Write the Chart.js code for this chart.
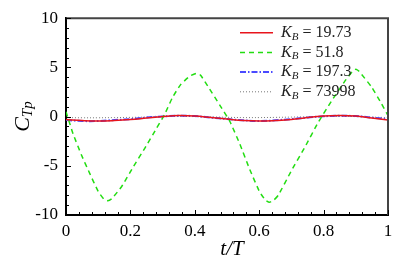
<!DOCTYPE html>
<html>
<head>
<meta charset="utf-8">
<script src="https://cdn.jsdelivr.net/npm/chart.js@4"></script>
<style>
  html, body { margin: 0; padding: 0; background: #fff; }
  canvas { display: block; }
</style>
</head>
<body>
<canvas id="ctpChart" width="407" height="272"></canvas>
<script>
// K_B = 51.8 (big oscillation)
var tGreen = [0, 0.022, 0.048, 0.074, 0.1, 0.118, 0.13, 0.142, 0.173, 0.209, 0.245, 0.281, 0.306, 0.33, 0.355, 0.384, 0.405, 0.418, 0.446, 0.477, 0.509, 0.54, 0.571, 0.602, 0.62, 0.632, 0.645, 0.659, 0.7, 0.742, 0.783, 0.825, 0.866, 0.89, 0.9, 0.91, 0.949, 0.98, 1];
var ctpGreen = [0.5, -1.75, -3.9, -5.8, -7.6, -8.4, -8.55, -8.35, -7.1, -5.1, -3.2, -1.2, 0.2, 1.9, 3.2, 4.1, 4.4, 4.2, 2.8, 1.2, -0.5, -2.8, -5.4, -7.7, -8.5, -8.7, -8.5, -8.0, -5.5, -3.1, -0.6, 1.6, 3.6, 4.6, 4.8, 4.6, 3.0, 1.3, 0.1];

// the three small ones
var tSmall = [0, 0.05, 0.1, 0.15, 0.2, 0.25, 0.3, 0.35, 0.4, 0.45, 0.5, 0.55, 0.6, 0.65, 0.7, 0.75, 0.8, 0.85, 0.9, 0.95, 1];
var ctpRed  = [-0.3, -0.4, -0.45, -0.4, -0.3, -0.15, 0.0, 0.1, 0.05, -0.1, -0.25, -0.4, -0.45, -0.4, -0.3, -0.1, 0.05, 0.1, 0.05, -0.15, -0.35];
var ctpBlue = [-0.35, -0.45, -0.45, -0.35, -0.25, -0.1, 0.02, 0.08, 0.05, -0.1, -0.25, -0.38, -0.45, -0.38, -0.25, -0.1, 0.03, 0.08, 0.05, -0.1, -0.25];
var ctpGray = [-0.1, -0.12, -0.12, -0.1, -0.08, -0.05, 0.0, 0.02, 0.0, -0.03, -0.07, -0.1, -0.1, -0.08, -0.05, -0.02, 0.0, 0.02, 0.0, -0.05, -0.1];

var kbLabels = ['19.73', '51.8', '197.3', '73998'];
var xTicks = [0, 0.2, 0.4, 0.6, 0.8, 1];
var yTicks = [-10, -5, 0, 5, 10];

function pts(xs, ys) {
    var out = [];
    for (let i = 0; i < xs.length; i++) {
        out.push({ x: xs[i], y: ys[i] });
    }
    return out;
}

var SERIF = '"Liberation Serif", "DejaVu Serif", serif';

// frame, inward ticks, legend and axis titles
var decor = {
    id: 'decor',
    afterDraw: function (chart) {
        var ctx = chart.ctx;
        var a = chart.chartArea;
        var xs = chart.scales.x, ys = chart.scales.y;
        ctx.save();

        // top + right edge of the box
        ctx.strokeStyle = '#444';
        ctx.lineWidth = 2;
        ctx.beginPath();
        ctx.moveTo(a.left, a.top);
        ctx.lineTo(a.right, a.top);
        ctx.lineTo(a.right, a.bottom);
        ctx.stroke();

        // inward ticks
        ctx.strokeStyle = '#000';
        ctx.lineWidth = 1;
        ctx.beginPath();
        for (let i = 0; i <= 25; i++) {
            let v = i * 0.04;
            let px = Math.round(xs.getPixelForValue(v)) + 0.5;
            let len = (i % 5 === 0) ? 5 : 3;
            ctx.moveTo(px, a.bottom);
            ctx.lineTo(px, a.bottom - len);
        }
        for (let v = -10; v <= 10; v++) {
            let py = Math.round(ys.getPixelForValue(v)) + 0.5;
            let len = (v % 5 === 0) ? 5 : 3;
            ctx.moveTo(a.left, py);
            ctx.lineTo(a.left + len, py);
        }
        ctx.stroke();

        // legend
        var lx = a.right - 148;
        chart.data.datasets.forEach(function (ds, i) {
            let y = a.top + 14.5 + i * 19.7;
            ctx.strokeStyle = ds.borderColor;
            ctx.lineWidth = ds.borderWidth;
            ctx.setLineDash(ds.borderDash || []);
            ctx.beginPath();
            ctx.moveTo(lx, y);
            ctx.lineTo(lx + 33, y);
            ctx.stroke();
            ctx.setLineDash([]);

            ctx.fillStyle = '#222';
            ctx.textBaseline = 'middle';
            ctx.textAlign = 'left';
            let tx = lx + 41;
            ctx.font = 'italic 16px ' + SERIF;
            ctx.fillText('K', tx, y);
            tx += ctx.measureText('K').width;
            ctx.font = 'italic 11px ' + SERIF;
            ctx.fillText('B', tx, y + 4);
            tx += ctx.measureText('B').width + 4;
            ctx.font = '16px ' + SERIF;
            ctx.fillText('=', tx, y);
            tx += ctx.measureText('=').width + 4;
            ctx.fillText(kbLabels[i], tx, y);
        });

        // x title t/T
        ctx.fillStyle = '#000';
        ctx.textAlign = 'center';
        ctx.textBaseline = 'middle';
        ctx.font = 'italic 21px ' + SERIF;
        ctx.fillText('t/T', (a.left + a.right) / 2 + 5, 249);

        // y title C_Tp, rotated
        ctx.translate(23, (a.top + a.bottom) / 2);
        ctx.rotate(-Math.PI / 2);
        ctx.textAlign = 'left';
        ctx.font = 'italic 22px ' + SERIF;
        var wC = ctx.measureText('C').width;
        ctx.font = 'italic 15px ' + SERIF;
        var wS = ctx.measureText('Tp').width;
        var x0 = -(wC + wS) / 2;
        ctx.font = 'italic 22px ' + SERIF;
        ctx.fillText('C', x0, 0);
        ctx.font = 'italic 15px ' + SERIF;
        ctx.fillText('Tp', x0 + wC, 5);

        ctx.restore();
    }
};

var ctx = document.getElementById('ctpChart');
var ctpChart = new Chart(ctx, {
    type: 'line',
    data: {
        datasets: [{
            label: 'K_B = 19.73',
            data: pts(tSmall, ctpRed),
            borderColor: '#e8141c',
            borderWidth: 1.5,
            pointRadius: 0,
            tension: 0.4
        }, {
            label: 'K_B = 51.8',
            data: pts(tGreen, ctpGreen),
            borderColor: '#22dd11',
            borderWidth: 1.5,
            borderDash: [5, 4],
            pointRadius: 0,
            tension: 0.15
        }, {
            label: 'K_B = 197.3',
            data: pts(tSmall, ctpBlue),
            borderColor: '#4a4aff',
            borderWidth: 2,
            borderDash: [6, 2, 1.5, 2],
            pointRadius: 0,
            tension: 0.4
        }, {
            label: 'K_B = 73998',
            data: pts(tSmall, ctpGray),
            borderColor: '#777777',
            borderWidth: 1,
            borderDash: [1, 2],
            pointRadius: 0,
            tension: 0.4
        }]
    },
    options: {
        responsive: false,
        animation: false,
        layout: { padding: { top: 17, right: 19, left: 0, bottom: 0 } },
        plugins: {
            legend: { display: false },
            tooltip: { enabled: false }
        },
        scales: {
            x: {
                type: 'linear',
                min: 0,
                max: 1,
                afterBuildTicks: function (s) {
                    s.ticks = xTicks.map(function (v) { return { value: v }; });
                },
                afterFit: function (s) { s.height = 57; },
                grid: { display: false, drawTicks: false },
                border: { display: true, color: '#000', width: 2 },
                ticks: {
                    padding: 6,
                    color: '#000',
                    maxRotation: 0,
                    font: { family: SERIF, size: 17 },
                    callback: function (v) { return String(v); }
                }
            },
            y: {
                min: -10,
                max: 10,
                afterBuildTicks: function (s) {
                    s.ticks = yTicks.map(function (v) { return { value: v }; });
                },
                afterFit: function (s) { s.width = 66; },
                grid: { display: false, drawTicks: false },
                border: { display: true, color: '#000', width: 2 },
                ticks: {
                    padding: 8,
                    color: '#000',
                    font: { family: SERIF, size: 17 },
                    callback: function (v) { return String(v); }
                }
            }
        }
    },
    plugins: [decor]
});
</script>
</body>
</html>
